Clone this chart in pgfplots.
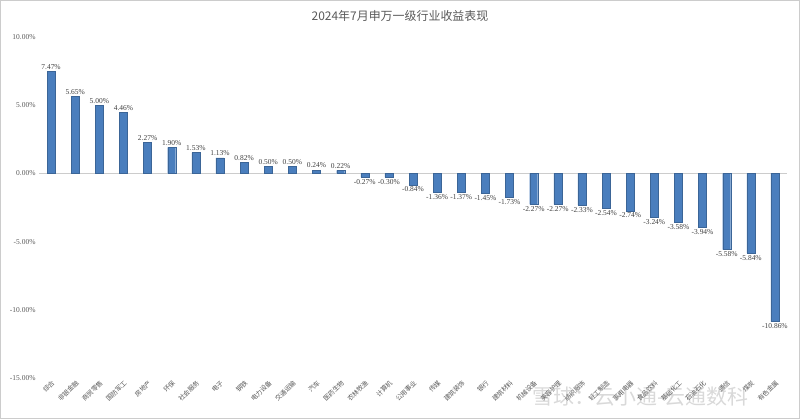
\documentclass[border=0pt]{standalone}
\usepackage{fontspec}
\setmainfont{Liberation Serif}
\newfontfamily\cjk{Noto Sans CJK SC}
\usepackage{pgfplots}
\pgfplotsset{compat=1.18}
\definecolor{barblue}{RGB}{74,126,189}
\definecolor{txtgray}{RGB}{89,89,89}
\definecolor{lblgray}{RGB}{64,64,64}

\begin{document}
\begin{tikzpicture}[x=1bp,y=1bp]
	\useasboundingbox (0,0) rectangle (800,419);
	\draw[gray!40] (0.5,0.5) rectangle (799.5,418.5);
	\node[font=\cjk\fontsize{12}{14}\selectfont, text=txtgray] at (400,403) {2024年7月申万一级行业收益表现};
	\begin{axis}[
			at={(39bp,41bp)}, anchor=south west,
			scale only axis,
			width=748bp, height=341bp,
			ybar, bar width=8bp,
			xmin=-0.5, xmax=30.5,
			ymin=-15, ymax=10,
			ytick={-15,-10,-5,0,5,10},
			axis line style={draw=none},
			major tick length=0pt,
			xtick=data,
			xticklabels={综合,非银金融,商贸零售,国防军工,房地产,环保,社会服务,电子,钢铁,电力设备,交通运输,汽车,医药生物,农林牧渔,计算机,公用事业,传媒,建筑装饰,银行,建筑材料,机械设备,美容护理,纺织服饰,轻工制造,家用电器,食品饮料,基础化工,石油石化,通信,煤炭,有色金属},
			xticklabel style={font=\cjk\fontsize{6.5}{7}\selectfont, text=txtgray, rotate=45, anchor=north east, inner sep=1pt},
			yticklabel style={font=\fontsize{7.5}{8}\selectfont, text=txtgray},
			/pgf/number format/assume math mode=true,
			yticklabel={\pgfmathprintnumber[fixed,fixed zerofill,precision=2]{\tick}\%},
			extra y ticks={0},
			extra y tick labels={},
			extra y tick style={grid=major, major grid style={draw=gray!40, line width=0.6pt}},
			nodes near coords={\pgfmathprintnumber[fixed,fixed zerofill,precision=2]{\pgfplotspointmeta}\%},
			every node near coord/.append style={font=\fontsize{7.5}{8}\selectfont, text=lblgray, inner sep=2pt},
			clip=false,
		]
		\addplot[fill=barblue, draw=barblue!80!black, line width=0.2pt] coordinates {
				(0,7.47) (1,5.65) (2,5.00) (3,4.46) (4,2.27) (5,1.90) (6,1.53) (7,1.13)
				(8,0.82) (9,0.50) (10,0.50) (11,0.24) (12,0.22) (13,-0.27) (14,-0.30)
				(15,-0.84) (16,-1.36) (17,-1.37) (18,-1.45) (19,-1.73) (20,-2.27) (21,-2.27)
				(22,-2.33) (23,-2.54) (24,-2.74) (25,-3.24) (26,-3.58) (27,-3.94) (28,-5.58)
				(29,-5.84) (30,-10.86)
			};
	\end{axis}
	\node[font=\cjk\fontsize{21}{23}\selectfont, text=gray, opacity=0.3, anchor=west, inner sep=0pt] at (532,22) {雪球：云小通-云通数科};
\end{tikzpicture}
\end{document}
